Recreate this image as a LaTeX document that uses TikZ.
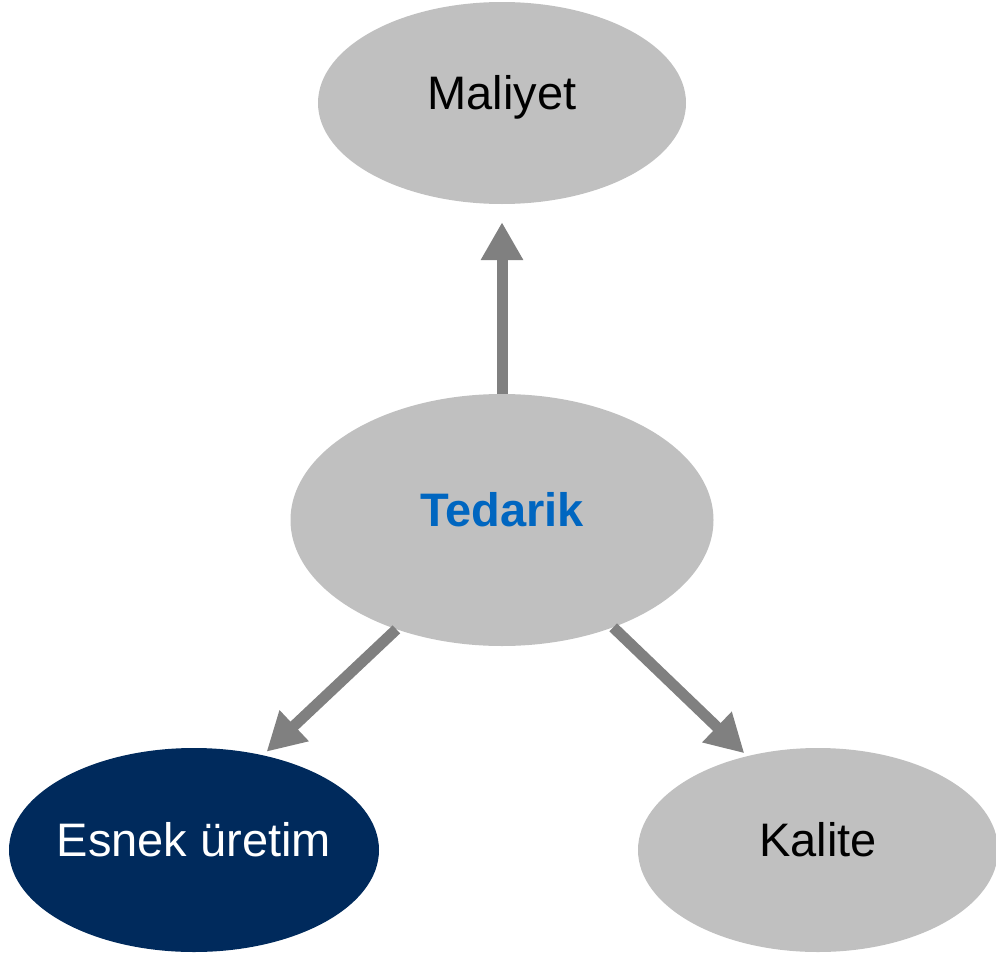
\documentclass[tikz,border=0pt]{standalone}
\usepackage{fontspec}
\setmainfont{Liberation Sans}
\usetikzlibrary{positioning,shapes.geometric,arrows.meta}
\definecolor{bubblegray}{HTML}{C0C0C0}
\definecolor{arrowgray}{HTML}{808080}
\definecolor{navyblue}{HTML}{002A5C}
\definecolor{titleblue}{HTML}{0066C0}

\begin{document}
\begin{tikzpicture}[x=1pt,y=-1pt,
    bubble/.style={ellipse,fill=bubblegray,draw=none,inner sep=0pt,inner xsep=-20pt,
        text height=34pt,text depth=22pt,font=\fontsize{47}{56}\selectfont},
    link/.style={draw=arrowgray,line width=11pt,
        -{Triangle[length=38pt,width=40pt]}}]
            \useasboundingbox (0,0) rectangle (996,953);
            \node[bubble,minimum width=368pt,minimum height=202pt] (mal) at (502,103) {Maliyet};
            \node[bubble,minimum width=423pt,minimum height=252pt,text=titleblue,
                font=\fontsize{47}{56}\selectfont\bfseries] (ted) at (502,520) {Tedarik};
            \node[bubble,fill=navyblue,text=white,minimum width=370pt,minimum height=204pt] (esn) at (194,850) {Esnek üretim};
            \node[bubble,minimum width=360pt,minimum height=204pt] (kal) at (818,850) {Kalite};
            \draw[link,shorten >=18pt] (ted.north) -- (mal.south);
            \draw[link,shorten >=5pt] (ted.226) -- (esn.54);
            \draw[link,shorten >=4pt] (ted.316) -- (kal.127);
        \end{tikzpicture}
\end{document}
